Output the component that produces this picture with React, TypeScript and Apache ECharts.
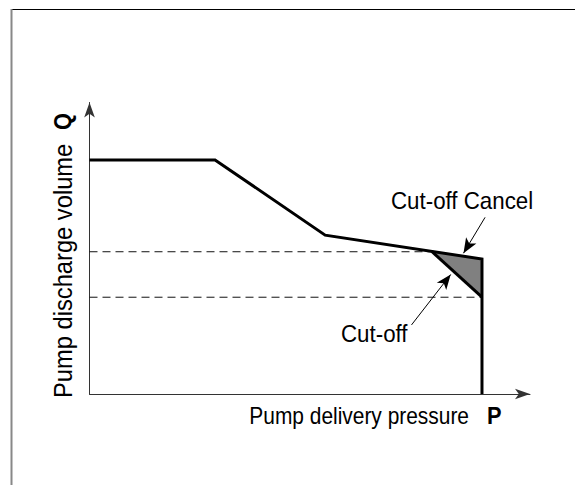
import React, { useEffect, useRef } from "react";
import * as echarts from "echarts";

// Characteristic curve (pump delivery pressure P vs discharge volume Q)
const curveP = [0, 28.5, 53.5, 89.1, 89.1];
const curveQ = [80.3, 80.3, 54.5, 46.3, 0];

// Cut-off line (lower edge of the cancelled region)
const cutoffP = [77.7, 89.1];
const cutoffQ = [48.9, 33.2];

// Cut-off cancel region (triangle)
const triangleP = [77.7, 89.1, 89.1];
const triangleQ = [48.9, 46.3, 33.2];

// Dashed reference levels
const upperDashP = [0, 77.7];
const upperDashQ = [48.8, 48.8];
const lowerDashP = [0, 89.1];
const lowerDashQ = [33.2, 33.2];

// Annotation arrows [fromP, fromQ, toP, toQ]
const cancelArrow = [89.8, 60.6, 84.9, 48.3];
const cutoffArrow = [73.1, 23.7, 82.0, 41.0];

// Labels
const xTitle = "Pump delivery pressure";
const xSymbol = "P";
const yTitle = "Pump discharge volume";
const ySymbol = "Q";
const cancelLabel = "Cut-off Cancel";
const cutoffLabel = "Cut-off";

const FONT = "'Liberation Sans', Arial, Helvetica, sans-serif";

const zip = (a: number[], b: number[]) => a.map((v, i) => [v, b[i]]);

export default function App() {
  const ref = useRef<HTMLDivElement>(null);
  useEffect(() => {
    if (!ref.current) return;
    const chart = echarts.init(ref.current, null, { renderer: "svg" });
    const axisCommon = {
      type: "value" as const,
      min: 0,
      max: 100,
      axisLine: {
        show: true,
        symbol: ["none", "arrow"],
        symbolSize: [8, 15],
        lineStyle: { color: "#333", width: 1 },
      },
      axisTick: { show: false },
      axisLabel: { show: false },
      splitLine: { show: false },
    };
    const solid = { color: "#000", width: 3, cap: "butt", join: "miter" };
    chart.setOption({
      animation: false,
      backgroundColor: "#fff",
      grid: { left: 89.5, top: 102.5, right: 45, bottom: 91 },
      xAxis: axisCommon,
      yAxis: axisCommon,
      graphic: [
        { type: "line", shape: { x1: 11, y1: 9.5, x2: 575, y2: 9.5 }, style: { stroke: "#000", lineWidth: 1 } },
        { type: "line", shape: { x1: 11.5, y1: 9, x2: 11.5, y2: 485 }, style: { stroke: "#888", lineWidth: 2 } },
        {
          type: "text", x: 469, y: 416, scaleX: 0.91,
          style: { text: xTitle, font: `23px ${FONT}`, fill: "#000", align: "right", verticalAlign: "middle" },
        },
        {
          type: "text", x: 487, y: 416, scaleX: 0.95,
          style: { text: xSymbol, font: `bold 23px ${FONT}`, fill: "#000", align: "left", verticalAlign: "middle" },
        },
        {
          type: "text", x: 63, y: 398, rotation: Math.PI / 2, scaleX: 0.93,
          style: { text: yTitle, font: `25.5px ${FONT}`, fill: "#000", align: "left", verticalAlign: "middle" },
        },
        {
          type: "text", x: 63, y: 130, rotation: Math.PI / 2, scaleX: 0.95,
          style: { text: ySymbol, font: `bold 23px ${FONT}`, fill: "#000", align: "left", verticalAlign: "middle" },
        },
        {
          type: "text", x: 391, y: 201, scaleX: 0.93,
          style: { text: cancelLabel, font: `24px ${FONT}`, fill: "#000", align: "left", verticalAlign: "middle" },
        },
        {
          type: "text", x: 341, y: 334, scaleX: 0.93,
          style: { text: cutoffLabel, font: `24px ${FONT}`, fill: "#000", align: "left", verticalAlign: "middle" },
        },
      ],
      series: [
        {
          type: "custom",
          name: "Cut-off Cancel region",
          data: [[0]],
          z: 1,
          silent: true,
          renderItem: (_params: any, api: any) => ({
            type: "polygon",
            shape: { points: triangleP.map((p, i) => api.coord([p, triangleQ[i]])) },
            style: { fill: "#808080", stroke: "none" },
          }),
        },
        {
          type: "line",
          name: "upper level",
          data: zip(upperDashP, upperDashQ),
          symbol: "none",
          z: 2,
          silent: true,
          lineStyle: { color: "#111", width: 1, type: [8, 5] },
          markLine: {
            silent: true,
            symbol: ["none", "arrow"],
            symbolSize: [9, 15],
            label: { show: false },
            lineStyle: { color: "#000", width: 1, type: "solid" },
            data: [
              [
                { coord: [cancelArrow[0], cancelArrow[1]] },
                { coord: [cancelArrow[2], cancelArrow[3]] },
              ],
              [
                { coord: [cutoffArrow[0], cutoffArrow[1]] },
                { coord: [cutoffArrow[2], cutoffArrow[3]] },
              ],
            ],
          },
        },
        {
          type: "line",
          name: "lower level",
          data: zip(lowerDashP, lowerDashQ),
          symbol: "none",
          z: 2,
          silent: true,
          lineStyle: { color: "#111", width: 1, type: [8, 5] },
        },
        {
          type: "line",
          name: "Q-P curve",
          data: zip(curveP, curveQ),
          symbol: "none",
          z: 3,
          silent: true,
          lineStyle: solid,
        },
        {
          type: "line",
          name: "Cut-off",
          data: zip(cutoffP, cutoffQ),
          symbol: "none",
          z: 3,
          silent: true,
          lineStyle: solid,
        },
      ],
    });
    return () => chart.dispose();
  }, []);
  return (
    <div
      ref={ref}
      style={{ position: "fixed", left: 0, top: 0, width: 575, height: 485, background: "#fff" }}
    />
  );
}
